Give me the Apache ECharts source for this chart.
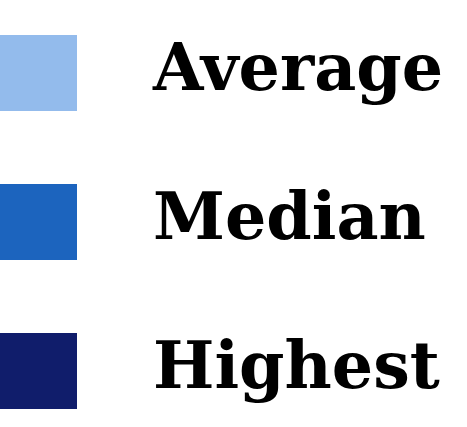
<!DOCTYPE html>
<html><head><meta charset="utf-8">
<script src="https://cdn.jsdelivr.net/npm/echarts@6/dist/echarts.min.js"></script>
<style>html,body{margin:0;padding:0;background:#fff}#c{width:467px;height:427px}</style>
</head><body><div id="c"></div>
<script>
const categories = ['Average', 'Median', 'Highest'];
const colors = ['#93BBEC', '#1C64BE', '#101D6B'];
const chart = echarts.init(document.getElementById('c'), null, {renderer: 'canvas'});
chart.setOption({
  animation: false,
  backgroundColor: '#ffffff',
  xAxis: {show: false, type: 'category', data: ['x']},
  yAxis: {show: false, type: 'value'},
  grid: {left: -100, top: -100, width: 1, height: 1},
  legend: {
    orient: 'vertical', left: 0, top: 35, padding: 0,
    itemWidth: 77, itemHeight: 76, itemGap: 73,
    icon: 'rect',
    data: categories,
    textStyle: {fontFamily: 'DejaVu Serif', fontWeight: 'bold', fontSize: 65, color: '#000', padding: [0, 0, 8, 71]}
  },
  series: categories.map((n, i) => ({name: n, type: 'bar', data: [], itemStyle: {color: colors[i]}}))
});
</script></body></html>
